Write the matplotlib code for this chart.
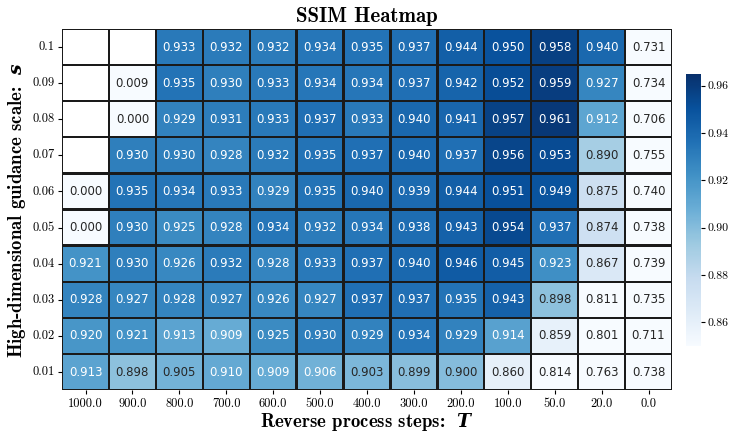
import numpy as np
import matplotlib
matplotlib.use('Agg')
import matplotlib.pyplot as plt
import seaborn as sns

# reverse process steps T (columns) and guidance scale s (rows, top to bottom)
steps = ['1000.0', '900.0', '800.0', '700.0', '600.0', '500.0', '400.0',
         '300.0', '200.0', '100.0', '50.0', '20.0', '0.0']
scales = ['0.1', '0.09', '0.08', '0.07', '0.06', '0.05', '0.04', '0.03', '0.02', '0.01']

nan = np.nan
row_010 = [nan, nan, 0.933, 0.932, 0.932, 0.934, 0.935, 0.937, 0.944, 0.950, 0.958, 0.940, 0.731]
row_009 = [nan, 0.009, 0.935, 0.930, 0.933, 0.934, 0.934, 0.937, 0.942, 0.952, 0.959, 0.927, 0.734]
row_008 = [nan, 0.000, 0.929, 0.931, 0.933, 0.937, 0.933, 0.940, 0.941, 0.957, 0.961, 0.912, 0.706]
row_007 = [nan, 0.930, 0.930, 0.928, 0.932, 0.935, 0.937, 0.940, 0.937, 0.956, 0.953, 0.890, 0.755]
row_006 = [0.000, 0.935, 0.934, 0.933, 0.929, 0.935, 0.940, 0.939, 0.944, 0.951, 0.949, 0.875, 0.740]
row_005 = [0.000, 0.930, 0.925, 0.928, 0.934, 0.932, 0.934, 0.938, 0.943, 0.954, 0.937, 0.874, 0.738]
row_004 = [0.921, 0.930, 0.926, 0.932, 0.928, 0.933, 0.937, 0.940, 0.946, 0.945, 0.923, 0.867, 0.739]
row_003 = [0.928, 0.927, 0.928, 0.927, 0.926, 0.927, 0.937, 0.937, 0.935, 0.943, 0.898, 0.811, 0.735]
row_002 = [0.920, 0.921, 0.913, 0.909, 0.925, 0.930, 0.929, 0.934, 0.929, 0.914, 0.859, 0.801, 0.711]
row_001 = [0.913, 0.898, 0.905, 0.910, 0.909, 0.906, 0.903, 0.899, 0.900, 0.860, 0.814, 0.763, 0.738]

ssim = np.array([row_010, row_009, row_008, row_007, row_006,
                 row_005, row_004, row_003, row_002, row_001])

cbar_ticks = [0.86, 0.88, 0.90, 0.92, 0.94, 0.96]

plt.rcParams['mathtext.fontset'] = 'custom'
plt.rcParams['mathtext.bfit'] = 'DejaVu Serif:italic:bold'
plt.rcParams['axes.formatter.use_mathtext'] = True

fig = plt.figure(figsize=(7.3, 4.32), dpi=100)
ax = fig.add_axes([0.085, 0.097, 0.8355, 0.836])
cax = fig.add_axes([0.9397, 0.199, 0.0205, 0.63])

sns.heatmap(ssim, ax=ax, cbar_ax=cax, cmap='Blues', vmin=0.85, vmax=0.965,
            annot=True, fmt='.3f', annot_kws={'fontsize': 8.5},
            linewidths=1.0, linecolor='#1a1a1a',
            xticklabels=steps, yticklabels=scales)
# no pixel snapping, so the cell borders stay thin and even
ax.collections[0].set_snap(False)

ax.set_xticklabels(steps, rotation=0, fontfamily='cmr10', fontsize=9)
ax.set_yticklabels(scales, rotation=0, fontfamily='cmr10', fontsize=9)
ax.tick_params(axis='both', length=3, pad=2.5)
ax.set_title('SSIM Heatmap', fontfamily='cmb10', fontsize=15, pad=5)
ax.set_xlabel(r'Reverse process steps:  $\mathbfit{T}$', fontfamily='cmb10',
              fontsize=13.5, labelpad=1)
ax.set_ylabel(r'High-dimensional guidance scale:  $\mathbfit{s}$', fontfamily='cmb10',
              fontsize=13.5, labelpad=3)

cax.set_yticks(cbar_ticks)
cax.set_yticklabels(['%.2f' % t for t in cbar_ticks], fontfamily='cmr10', fontsize=8.5)
cax.tick_params(length=3, pad=2)

fig.savefig('out.png', dpi=100)
